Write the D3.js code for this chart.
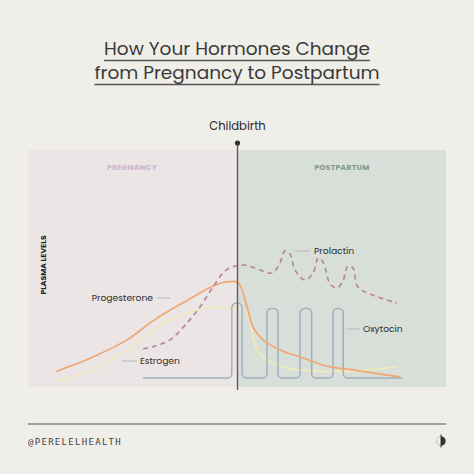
<!DOCTYPE html>
<html><head><meta charset="utf-8">
<script src="https://cdn.jsdelivr.net/npm/d3@7/dist/d3.min.js"></script>
<style>
html,body{margin:0;padding:0;background:#efeee9;}
svg{display:block;}
</style></head>
<body>
<script>
// ---- data (t: time 0..100, childbirth at 50; level: plasma level 0..100) ----
const phases = ["PREGNANCY", "POSTPARTUM"];
const eventLabel = "Childbirth";
const childbirthT = 50;
const progesteroneT = [-1, 0, 9.3, 18.9, 25.4, 31, 37.5, 43.1, 46.5, 49.9, 50.8, 52.7, 54.4, 57.2, 62, 68.5, 76.1, 82.5, 95.8];
const progesteroneV = [5.0, 5.6, 11.2, 18.5, 25.8, 31.3, 36.9, 41.6, 43.3, 43.3, 41.8, 32.6, 24, 18.5, 14.2, 10.7, 6.9, 5.6, 2.6];
const estrogenT = [-1, 0, 9.3, 18.9, 28.2, 35.8, 41.4, 49.9, 51.5, 53.2, 54.4, 55.8, 58.3, 63.9, 73.2, 83, 94.9];
const estrogenV = [1.0, 1.3, 5.6, 14.2, 24.9, 30, 32.2, 32.2, 31.3, 28.5, 19.7, 13.5, 9.9, 6.5, 5.0, 5.2, 6.9];
const prolactinT = [23.4, 26.8, 31, 35.8, 39.4, 43.1, 45.9, 48.5, 52.1, 56.3, 59.7, 61.7, 63.4, 64.8, 66.2, 69, 71.3, 72.7, 74.1, 76.1, 78, 79.7, 81.1, 82.5, 83.9, 87.3, 94.9];
const prolactinV = [14.6, 15.9, 18.5, 25.8, 32.6, 41.2, 47.2, 49.8, 50.6, 48.5, 47.2, 50.6, 56.7, 55.4, 48.5, 44.2, 47.2, 53.6, 51.9, 42.5, 40.8, 43.8, 50.2, 49.4, 41.2, 38.2, 34.3];
// oxytocin: baseline with four pulses (corner points of the pulse outline)
const oxytocinT = [23.4, 48.4, 48.4, 51.3, 51.3, 58.3, 58.3, 61.4, 61.4, 67.6, 67.6, 70.9, 70.9, 76.9, 76.9, 79.8, 79.8, 96.3];
const oxytocinV = [2.1, 2.1, 34.3, 34.3, 2.1, 2.1, 32.0, 32.0, 2.1, 2.1, 32.0, 32.0, 2.1, 2.1, 32.0, 32.0, 2.1, 2.1];
const seriesNames = ["Progesterone", "Estrogen", "Prolactin", "Oxytocin"];
const titleLines = ["How Your Hormones Change", "from Pregnancy to Postpartum"];
const yAxisTitle = "PLASMA LEVELS";
const handle = "@PERELELHEALTH";

const W = 474, H = 474;
const svg = d3.select("body").append("svg").attr("width", W).attr("height", H);

const x = d3.scaleLinear().domain([0, 100]).range([60, 415]);
const y = d3.scaleLinear().domain([0, 100]).range([383, 150]);

const font = "Poppins, 'Open Sans', Lato, sans-serif";
const panelL = 28, panelR = 446, panelT = 150, panelB = 387;
const xb = x(childbirthT);

// panels
svg.append("rect").attr("x", panelL).attr("y", panelT).attr("width", xb - panelL).attr("height", panelB - panelT).attr("fill", "#ebe5e5");
svg.append("rect").attr("x", xb).attr("y", panelT).attr("width", panelR - xb).attr("height", panelB - panelT).attr("fill", "#d8ded8");

// title
const tg = svg.append("g").attr("font-family", font).attr("fill", "#3a3a3a").attr("text-anchor", "middle");
titleLines.forEach((t, i) => {
  const by = 55 + i * 24;
  const txt = tg.append("text").attr("x", 237).attr("y", by).attr("font-size", 18.5).text(t);
  const w = txt.node().getComputedTextLength();
  tg.append("line").attr("x1", 237 - w / 2).attr("x2", 237 + w / 2).attr("y1", by + 5.5).attr("y2", by + 5.5)
    .attr("stroke", "#555").attr("stroke-width", 1.3);
});

// phase labels
svg.append("text").attr("x", 132).attr("y", 170).attr("text-anchor", "middle").attr("font-family", font)
  .attr("font-weight", 700).attr("font-size", 7.6).attr("letter-spacing", 0.3).attr("fill", "#c9b5cc").text(phases[0]);
svg.append("text").attr("x", 342).attr("y", 170).attr("text-anchor", "middle").attr("font-family", font)
  .attr("font-weight", 700).attr("font-size", 7.6).attr("letter-spacing", 0.3).attr("fill", "#7f9a8b").text(phases[1]);

// y axis title
svg.append("text").attr("transform", "translate(45.5,265) rotate(-90)").attr("text-anchor", "middle")
  .attr("font-family", font).attr("font-weight", 700).attr("font-size", 7.7).attr("fill", "#222").text(yAxisTitle);

// series
const zip = (ts, vs) => ts.map((t, i) => [t, vs[i]]);
const mkLine = c => d3.line().x(d => x(d[0])).y(d => y(d[1])).curve(c);
const g = svg.append("g").attr("fill", "none");

g.append("path").datum(zip(estrogenT, estrogenV)).attr("d", mkLine(d3.curveCatmullRom.alpha(0.5)))
  .attr("stroke", "#f1ebb9").attr("stroke-width", 1.6);

// oxytocin: polyline through scaled corner points with rounded corners
(function () {
  const pts = zip(oxytocinT, oxytocinV).map(d => [x(d[0]), y(d[1])]);
  const p = d3.path();
  p.moveTo(pts[0][0], pts[0][1]);
  for (let i = 1; i < pts.length - 1; i++) {
    const a = pts[i - 1], b = pts[i], c = pts[i + 1];
    const seg = Math.min(Math.hypot(b[0] - a[0], b[1] - a[1]), Math.hypot(c[0] - b[0], c[1] - b[1]));
    p.arcTo(b[0], b[1], c[0], c[1], Math.min(4.6, seg / 2));
  }
  p.lineTo(pts[pts.length - 1][0], pts[pts.length - 1][1]);
  g.append("path").attr("d", p.toString()).attr("stroke", "#9fb0c0").attr("stroke-width", 1.5);
})();

g.append("path").datum(zip(progesteroneT, progesteroneV)).attr("d", mkLine(d3.curveCatmullRom.alpha(0.5)))
  .attr("stroke", "#f2a672").attr("stroke-width", 1.7);
g.append("path").datum(zip(prolactinT, prolactinV)).attr("d", mkLine(d3.curveCatmullRom.alpha(0.5)))
  .attr("stroke", "#b9879b").attr("stroke-width", 1.7).attr("stroke-dasharray", "5,4");

// childbirth line
svg.append("line").attr("x1", xb).attr("x2", xb).attr("y1", 143).attr("y2", 390).attr("stroke", "#5d5d5a").attr("stroke-width", 1.4);
svg.append("circle").attr("cx", xb).attr("cy", 143).attr("r", 2.6).attr("fill", "#333");
svg.append("text").attr("x", xb).attr("y", 130).attr("text-anchor", "middle").attr("font-family", font)
  .attr("font-size", 11.6).attr("fill", "#2a2a2a").text(eventLabel);

// series labels with leaders
const labels = [
  {name: seriesNames[0], tx: 153, ty: 298, anchor: "end", lx1: 157, lx2: 170},
  {name: seriesNames[1], tx: 140, ty: 361, anchor: "start", lx1: 122, lx2: 137},
  {name: seriesNames[2], tx: 314, ty: 251, anchor: "start", lx1: 295, lx2: 310},
  {name: seriesNames[3], tx: 363, ty: 329, anchor: "start", lx1: 347, lx2: 360}
];
labels.forEach(l => {
  svg.append("line").attr("x1", l.lx1).attr("x2", l.lx2).attr("y1", l.ty).attr("y2", l.ty).attr("stroke", "#b5b5b5").attr("stroke-width", 1);
  svg.append("text").attr("x", l.tx).attr("y", l.ty + 3.4).attr("text-anchor", l.anchor).attr("font-family", font)
    .attr("font-size", 9.2).attr("fill", "#2e2e2e").text(l.name);
});

// footer
svg.append("line").attr("x1", 28).attr("x2", 446).attr("y1", 424).attr("y2", 424).attr("stroke", "#8a877e").attr("stroke-width", 1.5);
svg.append("text").attr("x", 28).attr("y", 444.5).attr("font-family", "'DejaVu Sans Mono', monospace").attr("font-size", 9)
  .attr("letter-spacing", 1.3).attr("fill", "#444").text(handle);
// logo
const lg = svg.append("g").attr("transform", "translate(441,441)");
lg.append("circle").attr("r", 4.6).attr("fill", "none").attr("stroke", "#bbb").attr("stroke-width", 0.8);
lg.append("path").attr("d", d3.arc()({innerRadius: 0, outerRadius: 4.6, startAngle: 0, endAngle: Math.PI})).attr("fill", "#333");
lg.append("line").attr("y1", -6.5).attr("y2", 6.5).attr("stroke", "#333").attr("stroke-width", 1);
</script>
</body></html>
